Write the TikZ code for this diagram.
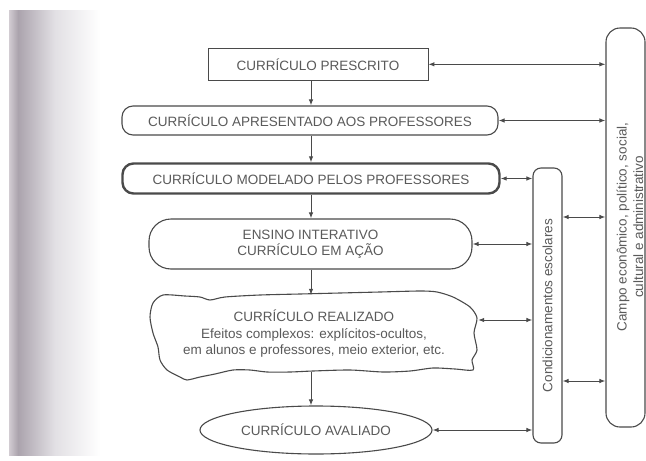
\documentclass[tikz,border=0pt]{standalone}
\usepackage{fontspec}
\setmainfont{Liberation Sans}
\usetikzlibrary{arrows.meta,shapes.geometric,calc}
\definecolor{ln}{HTML}{4A4A4A}
\definecolor{tx}{HTML}{5A5A5A}
\definecolor{scanA}{HTML}{D2CCD2}
\definecolor{scanB}{HTML}{ABA3AD}
\definecolor{scanC}{HTML}{E2E0E4}
\begin{document}
\begin{tikzpicture}[x=1pt,y=-1pt,
  every node/.style={text=tx, font=\fontsize{13.5}{16.5}\selectfont, inner sep=0pt, align=center},
  box/.style={draw=ln, line width=1.1pt},
  arr/.style={draw=ln, line width=1pt, -{Latex[length=6pt,width=4.5pt]}},
  darr/.style={draw=ln, line width=1pt, {Latex[length=6pt,width=4.5pt]}-{Latex[length=6pt,width=4.5pt]}}]
\useasboundingbox[fill=white] (0,0) rectangle (646,461);
% scanned page shading on the left
\shade[left color=scanA, right color=scanB] (9,10) rectangle (18,455);
\shade[left color=scanB, right color=scanC] (18,10) rectangle (55,455);
\shade[left color=scanC, right color=white] (55,10) rectangle (100,455);

\coordinate (ax) at (311,0);
\node[box, line width=0.8pt, minimum width=220pt, minimum height=32pt] (r1) at (318,64.3) {CURRÍCULO PRESCRITO};
\node[box, rounded corners=11pt, minimum width=376pt, minimum height=29pt] (r2) at (310,120.5) {CURRÍCULO APRESENTADO AOS PROFESSORES};
\node[box, line width=2.4pt, rounded corners=11pt, minimum width=377pt, minimum height=30pt] (r3) at (311,178.5) {CURRÍCULO MODELADO PELOS PROFESSORES};
\node[box, rounded corners=22pt, minimum width=323pt, minimum height=50pt] (r4) at (310.5,244) {ENSINO INTERATIVO\\CURRÍCULO EM AÇÃO};
\node[minimum width=328pt, minimum height=80pt] (r5) at (314,334) {CURRÍCULO REALIZADO\\Efeitos complexos: explícitos-ocultos,\\em alunos e professores, meio exterior, etc.};
\draw[ln, line width=1.1pt] plot[smooth cycle, tension=0.45] coordinates {
 (153,303) (163,295) (185,296) (200,297) (210,300) (225,297) (260,295) (300,294)
 (340,293) (380,292) (420,291) (437,292) (453,297) (470,307) (477,318) (474,333)
 (477,350) (472,360) (473,370) (455,369) (433,368) (410,371) (383,372) (350,370)
 (313,371) (290,372) (267,372) (250,370) (233,370) (215,374) (200,377) (187,380)
 (180,377) (167,370) (160,360) (158,347) (153,333) (150,317)};
\node[box, ellipse, minimum width=232pt, minimum height=48pt] (r6) at (316,430) {CURRÍCULO AVALIADO};

\node[box, rounded corners=8pt, minimum width=29pt, minimum height=275pt] (cond) at (547.5,305.5) {};
\node[rotate=90] (condtxt) at (cond) {Condicionamentos escolares};
\node[box, rounded corners=14pt, minimum width=39pt, minimum height=399pt] (campo) at (625.5,227.5) {};
\node[rotate=90] (campotxt) at (630,227) {Campo econômico, político, social,\\cultural e administrativo};

% vertical flow
\draw[arr] (r1.south -| ax) -- (r2.north -| ax);
\draw[arr] (r2.south -| ax) -- (r3.north -| ax);
\draw[arr] (r3.south -| ax) -- (r4.north -| ax);
\draw[arr] (r4.south -| ax) -- ([yshift=-1pt]r5.north -| ax);
\draw[arr] ([yshift=2pt]r5.south -| ax) -- (r6.north -| ax);

% horizontal links
\draw[darr] (r1.east) -- (r1.east -| campo.west);
\draw[darr] (r2.east) -- (r2.east -| campo.west);
\draw[darr] (r3.east) -- (r3.east -| cond.west);
\draw[darr] ([yshift=88.5pt]cond.east) -- ([yshift=88.5pt]cond.east -| campo.west);
\draw[darr] (r4.east) -- (r4.east -| cond.west);
\draw[darr] ([yshift=14pt]r5.east) -- ([yshift=14pt]r5.east -| cond.west);
\draw[darr] ([yshift=-75.5pt]cond.east) -- ([yshift=-75.5pt]cond.east -| campo.west);
\draw[darr] (r6.east) -- (r6.east -| cond.west);
\end{tikzpicture}
\end{document}
